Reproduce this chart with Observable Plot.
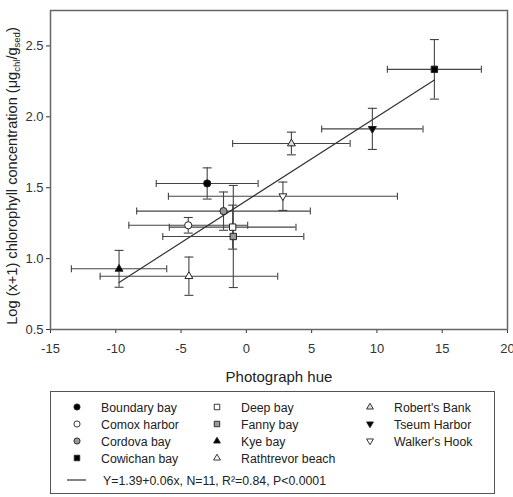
<!DOCTYPE html>
<html>
<head>
<meta charset="utf-8">
<script src="https://cdn.jsdelivr.net/npm/d3@7"></script>
<script src="https://cdn.jsdelivr.net/npm/@observablehq/plot@0.6"></script>
<style>
  body { margin: 0; background: #fff; font-family: "Liberation Sans", Arial, sans-serif; color: #333; }
  #wrap { position: relative; width: 513px; height: 497px; }
  #legend { position: absolute; left: 50px; top: 391px; width: 445px; height: 103px; border: 1.5px solid #555; box-sizing: border-box; }
</style>
</head>
<body>
<div id="wrap">
  <div id="chart"></div>
  <div id="legend"></div>
</div>
<script>
// ---- data ----
const sites   = ["Boundary bay", "Comox harbor", "Cordova bay", "Cowichan bay", "Deep bay", "Fanny bay", "Kye bay", "Rathtrevor beach", "Robert's Bank", "Tseum Harbor", "Walker's Hook"];
const hue     = [-3.0, -4.45, -1.75, 14.4, -1.05, -1.0, -9.75, -4.4, 3.45, 9.65, 2.8];
const hueErr  = [3.9, 4.55, 6.65, 3.6, 4.85, 5.4, 3.65, 6.8, 4.5, 3.88, 8.77];
const chl     = [1.53, 1.235, 1.335, 2.335, 1.222, 1.156, 0.928, 0.876, 1.812, 1.915, 1.44];
const chlErr  = [0.11, 0.055, 0.135, 0.21, 0.155, 0.36, 0.13, 0.135, 0.08, 0.145, 0.10];
const xTicks  = [-15, -10, -5, 0, 5, 10, 15, 20];
const yTicks  = [0.5, 1.0, 1.5, 2.0, 2.5];
const xLabel  = "Photograph hue";
const fitLabel = "Y=1.39+0.06x, N=11, R\u00B2=0.84, P<0.0001";

// ---- styles ----
const downTri = { draw(ctx, size) { const r = Math.sqrt(size / Math.PI) * 1.1; ctx.moveTo(-r, -r * 0.6); ctx.lineTo(r, -r * 0.6); ctx.lineTo(0, r * 1.1); ctx.closePath(); } };
const upTri = { draw(ctx, size) { const r = Math.sqrt(size / Math.PI) * 1.1; ctx.moveTo(-r, r * 0.6); ctx.lineTo(r, r * 0.6); ctx.lineTo(0, -r * 1.1); ctx.closePath(); } };
const vCap = { draw(ctx, size) { const r = Math.sqrt(size / Math.PI); ctx.moveTo(0, -r); ctx.lineTo(0, r); } };
const hCap = { draw(ctx, size) { const r = Math.sqrt(size / Math.PI); ctx.moveTo(-r, 0); ctx.lineTo(r, 0); } };
const style = {
  "Boundary bay":     { symbol: "circle", fill: "#000" },
  "Comox harbor":     { symbol: "circle", fill: "#fff" },
  "Cordova bay":      { symbol: "circle", fill: "#999" },
  "Cowichan bay":     { symbol: "square", fill: "#000" },
  "Deep bay":         { symbol: "square", fill: "#fff" },
  "Fanny bay":        { symbol: "square", fill: "#999" },
  "Kye bay":          { symbol: upTri, fill: "#000" },
  "Rathtrevor beach": { symbol: upTri, fill: "#fff" },
  "Robert's Bank":    { symbol: upTri, fill: "#ddd" },
  "Tseum Harbor":     { symbol: downTri, fill: "#000" },
  "Walker's Hook":    { symbol: downTri, fill: "#fff" }
};

const data = sites.map((s, i) => ({ site: s, x: hue[i], xe: hueErr[i], y: chl[i], ye: chlErr[i] }));
const ink = "#444";

const dotMarks = sites.map(s => Plot.dot(data.filter(d => d.site === s), {
  x: "x", y: "y", r: 3.6, symbol: style[s].symbol, fill: style[s].fill, stroke: "#222", strokeWidth: 1
}));

const chart = Plot.plot({
  width: 513, height: 390,
  marginLeft: 50, marginRight: 6, marginTop: 10, marginBottom: 61,
  style: { fontFamily: "'Liberation Sans', Arial, sans-serif", fontSize: "13px", color: "#333", background: "#fff" },
  x: { domain: [-15, 20], ticks: xTicks, tickFormat: d => String(d), tickSize: 4, tickPadding: 10, label: null },
  y: { domain: [0.5, 2.75], ticks: yTicks, tickFormat: d3.format(".1f"), tickSize: 4, tickPadding: 3, label: null },
  marks: [
    Plot.ruleY(data, { y: "y", x1: d => d.x - d.xe, x2: d => d.x + d.xe, stroke: ink, strokeWidth: 1.1 }),
    Plot.ruleX(data, { x: "x", y1: d => d.y - d.ye, y2: d => d.y + d.ye, stroke: ink, strokeWidth: 1.1 }),
    Plot.dot(data, { x: d => d.x - d.xe, y: "y", symbol: vCap, r: 3.5, stroke: ink, fill: "none", strokeWidth: 1.1 }),
    Plot.dot(data, { x: d => d.x + d.xe, y: "y", symbol: vCap, r: 3.5, stroke: ink, fill: "none", strokeWidth: 1.1 }),
    Plot.dot(data, { x: "x", y: d => d.y - d.ye, symbol: hCap, r: 4.5, stroke: ink, fill: "none", strokeWidth: 1.1 }),
    Plot.dot(data, { x: "x", y: d => d.y + d.ye, symbol: hCap, r: 4.5, stroke: ink, fill: "none", strokeWidth: 1.1 }),
    Plot.linearRegressionY(data, { x: "x", y: "y", ci: 0, stroke: "#333", strokeWidth: 1.2 }),
    ...dotMarks,
    Plot.frame({ stroke: "#666", strokeWidth: 1.5 })
  ]
});
document.getElementById("chart").appendChild(chart);

// axis titles as real text
const svg = d3.select(chart);
svg.append("text")
  .attr("x", 279).attr("y", 382)
  .attr("text-anchor", "middle")
  .attr("font-size", 15).attr("fill", "#222")
  .text(xLabel);
const yl = svg.append("text")
  .attr("transform", "translate(17,176) rotate(-90)")
  .attr("text-anchor", "middle")
  .attr("font-size", 14.6).attr("fill", "#222");
yl.append("tspan").text("Log (x+1) chlorophyll concentration (\u03BCg");
yl.append("tspan").attr("font-size", 9.5).attr("dy", 3).text("chl");
yl.append("tspan").attr("dy", -3).text("/g");
yl.append("tspan").attr("font-size", 9.5).attr("dy", 3).text("sed");
yl.append("tspan").attr("dy", -3).text(")");

// legend
const lg = d3.select("#legend").append("svg").attr("width", 442).attr("height", 100)
  .style("font-family", "'Liberation Sans', Arial, sans-serif");
const colX = [26, 166, 319];
const textDX = 24;
const rowY = [15, 32, 49, 66];
const symGen = (s) => {
  const sym = style[s].symbol;
  if (typeof sym === "string") return d3.symbol(sym === "circle" ? d3.symbolCircle : d3.symbolSquare, 30)();
  return d3.symbol(sym, 30)();
};
sites.forEach((s, i) => {
  const col = Math.floor(i / 4), row = i % 4;
  const g = lg.append("g").attr("transform", `translate(${colX[col]},${rowY[row]})`);
  g.append("path").attr("d", symGen(s)).attr("fill", style[s].fill).attr("stroke", "#222").attr("stroke-width", 0.9);
  g.append("text").attr("x", textDX).attr("y", 4.5).attr("font-size", 12.3).attr("fill", "#222").text(s);
});
const lr = lg.append("g").attr("transform", `translate(0,88)`);
lr.append("line").attr("x1", 16).attr("x2", 35).attr("y1", 0).attr("y2", 0).attr("stroke", "#333").attr("stroke-width", 1.2);
lr.append("text").attr("x", 52).attr("y", 4.5).attr("font-size", 12.3).attr("fill", "#222").text(fitLabel);
</script>
</body>
</html>
